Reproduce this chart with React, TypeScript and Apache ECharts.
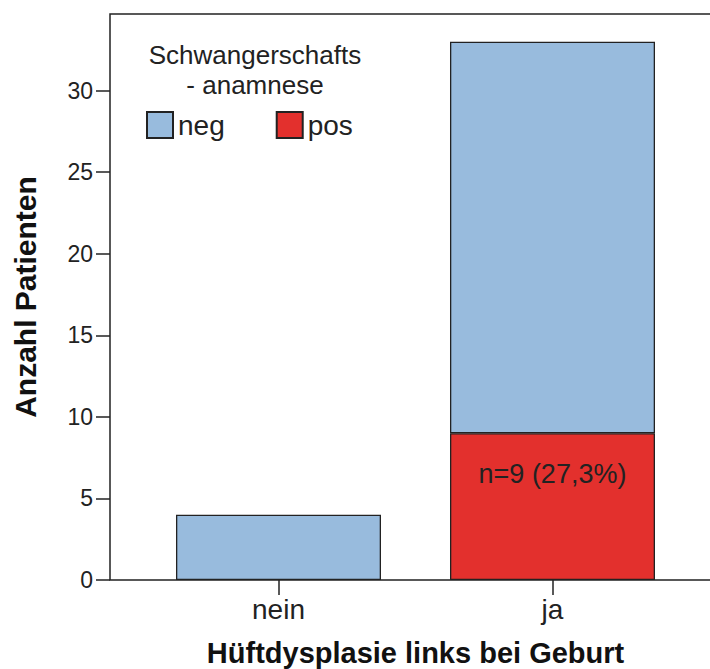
import React, { useEffect, useRef } from "react";
import * as echarts from "echarts";

const categories = ["nein", "ja"];
const negValues = [4, 24];
const posValues: (number | null)[] = [null, 9];
const posLabel = "n=9 (27,3%)";
const yTicks = [0, 5, 10, 15, 20, 25, 30];
const yMax = 34.7;
const legendTitle = "Schwangerschafts\n- anamnese";
const xTitle = "Hüftdysplasie links bei Geburt";
const yTitle = "Anzahl Patienten";

const FONT = "Liberation Sans, Arial, sans-serif";

export default function App() {
  const ref = useRef<HTMLDivElement>(null);
  useEffect(() => {
    if (!ref.current) return;
    const chart = echarts.init(ref.current, undefined, { renderer: "svg" });
    chart.setOption({
      animation: false,
      backgroundColor: "#fff",
      textStyle: { fontFamily: FONT },
      title: {
        text: legendTitle,
        left: 255,
        top: 40,
        padding: 0,
        textAlign: "center",
        textStyle: { fontFamily: FONT, fontSize: 26, fontWeight: "normal", color: "#222", lineHeight: 30 },
      },
      legend: {
        data: ["neg", "pos"],
        left: 146,
        top: 111,
        padding: 0,
        itemWidth: 26,
        itemHeight: 26,
        itemGap: 51,
        itemTextGap: 7,
        icon: "rect",
        textStyle: { fontFamily: FONT, fontSize: 28, color: "#222" },
      },
      grid: [
        { left: 110, right: -3, top: 14, bottom: 89, outerBoundsMode: "none", containLabel: false, show: true, borderColor: "#222", borderWidth: 1.5, backgroundColor: "transparent" },
        { left: 141.5, right: 20.5, top: 14, bottom: 89, outerBoundsMode: "none", containLabel: false },
      ],
      xAxis: [
        { gridIndex: 0, type: "value", show: false, min: 0, max: 1 },
        {
          gridIndex: 1,
          type: "category",
          data: categories,
          axisLine: { show: false },
          axisTick: { show: true, alignWithLabel: true, length: 15, lineStyle: { color: "#222", width: 1.5 } },
          axisLabel: { fontFamily: FONT, fontSize: 28, color: "#222", margin: 15 },
          name: xTitle,
          nameLocation: "middle",
          nameGap: 58,
          nameTextStyle: { fontFamily: FONT, fontSize: 29, fontWeight: "bold", color: "#111" },
        },
      ],
      yAxis: [
        {
          gridIndex: 0,
          type: "value",
          min: 0,
          max: yMax,
          axisLine: { show: false },
          splitLine: { show: false },
          axisTick: { show: true, length: 14, customValues: yTicks, lineStyle: { color: "#222", width: 1.5 } },
          axisLabel: { fontFamily: FONT, fontSize: 23, color: "#222", margin: 17, customValues: yTicks },
          name: yTitle,
          nameLocation: "middle",
          nameGap: 70,
          nameTextStyle: { fontFamily: FONT, fontSize: 30, fontWeight: "bold", color: "#111" },
        },
        { gridIndex: 1, type: "value", min: 0, max: yMax, show: false, splitLine: { show: false } },
      ],
      series: [
        {
          name: "pos",
          type: "bar",
          stack: "total",
          xAxisIndex: 1,
          yAxisIndex: 1,
          barWidth: 205,
          itemStyle: { color: "#E3302D", borderColor: "#222", borderWidth: 1.3 },
          label: {
            show: true,
            position: "insideTop",
            distance: 27,
            formatter: (p: any) => (p.value ? posLabel : ""),
            fontFamily: FONT,
            fontSize: 27,
            color: "#222",
          },
          data: posValues,
        },
        {
          name: "neg",
          type: "bar",
          stack: "total",
          xAxisIndex: 1,
          yAxisIndex: 1,
          barWidth: 205,
          itemStyle: { color: "#98BBDD", borderColor: "#222", borderWidth: 1.3 },
          data: negValues,
        },
      ],
    });
    return () => chart.dispose();
  }, []);
  return <div ref={ref} style={{ position: "fixed", left: 0, top: 0, width: 710, height: 669 }} />;
}
